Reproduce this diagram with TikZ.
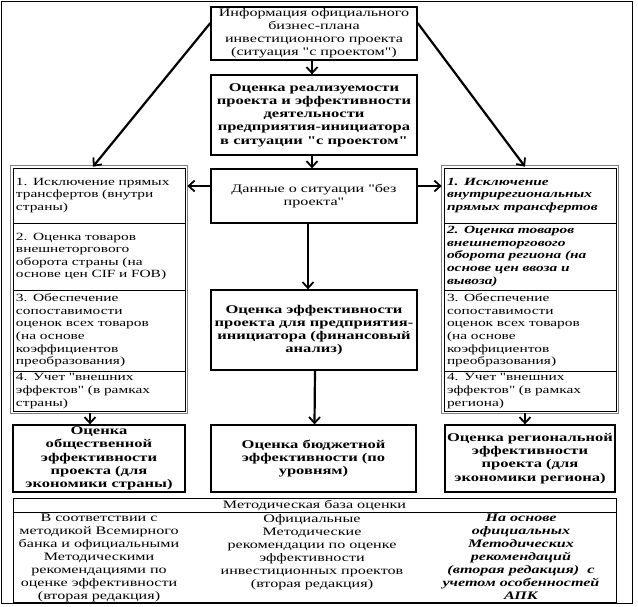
\documentclass[tikz,border=0pt]{standalone}
\usepackage{fontspec}
\setmainfont{Liberation Serif}[FakeStretch=1.4,Ligatures=TeXOff]
\usetikzlibrary{arrows.meta,calc}
\newcommand{\dq}{\char34\relax}
\begin{document}
\begin{tikzpicture}[x=1pt,y=-1pt,
  box/.style={draw,line width=1.3pt,inner sep=0pt,align=center,font=\fontsize{11.5}{13}\selectfont},
  bbox/.style={box,font=\fontsize{11.8}{13.2}\selectfont\bfseries},
  seg/.style={draw,line width=0.7pt,inner sep=0pt,minimum width=172,text width=166,align=left,font=\fontsize{11}{12.6}\selectfont},
  outerframe/.style={draw=gray,line width=0.9pt},
  arr/.style={line width=2.2pt,-{Straight Barb[length=6pt,width=11pt,line width=1.8pt]}},
  mtext/.style={anchor=north,inner sep=0pt,align=center,font=\fontsize{11.5}{13}\selectfont}]
\useasboundingbox (0,0) rectangle (638,606);
\draw[line width=0.8pt] (1,1) rectangle (632,603);

% central column
\node[box,minimum width=206,minimum height=53] (top) at (314,33.5)
  {Информация официального\\бизнес-плана\\инвестиционного проекта\\(ситуация \dq{}с проектом\dq{})};
\node[bbox,minimum width=206,minimum height=80] (real) at (314,115)
  {Оценка реализуемости\\проекта и эффективности\\деятельности\\предприятия-инициатора\\в ситуации \dq{}с проектом\dq{}};
\node[box,minimum width=206,minimum height=54] (bez) at (314,196)
  {Данные о ситуации \dq{}без\\проекта\dq{}};
\node[bbox,minimum width=206,minimum height=80] (fin) at (314,330)
  {Оценка эффективности\\проекта для предприятия-\\инициатора (финансовый\\анализ)};

% left column
\node[seg,minimum height=55] (L1) at (99,195.5) {1. Исключение прямых\\трансфертов (внутри\\страны)};
\node[seg,minimum height=67] (L2) at (99,256.5) {2. Оценка товаров\\внешнеторгового\\оборота страны (на\\основе цен CIF и FOB)};
\node[seg,minimum height=81] (L3) at (99,330.5) {3. Обеспечение\\сопоставимости\\оценок всех товаров\\(на основе\\коэффициентов\\преобразования)};
\node[seg,minimum height=40] (L4) at (99,391) {4. Учет \dq{}внешних\\эффектов\dq{} (в рамках\\страны)};
\draw[outerframe] ($(L1.north west)+(-1.8,-1.8)$) rectangle ($(L4.south east)+(1.8,1.8)$);

% right column
\node[seg,minimum height=55] (R1) at (530,195.5) {\textbf{\textit{1. Исключение\\внутрирегиональных\\прямых трансфертов}}};
\node[seg,minimum height=67] (R2) at (530,256.5) {\textbf{\textit{2. Оценка товаров\\внешнеторгового\\оборота региона (на\\основе цен ввоза и\\вывоза)}}};
\node[seg,minimum height=81] (R3) at (530,330.5) {3. Обеспечение\\сопоставимости\\оценок всех товаров\\(на основе\\коэффициентов\\преобразования)};
\node[seg,minimum height=40] (R4) at (530,391) {4. Учет \dq{}внешних\\эффектов\dq{} (в рамках\\региона)};
\draw[outerframe] ($(R1.north west)+(-1.8,-1.8)$) rectangle ($(R4.south east)+(1.8,1.8)$);

% bottom boxes
\node[bbox,minimum width=172,minimum height=67] (Lb) at (99,458.5)
  {Оценка\\общественной\\эффективности\\проекта (для\\экономики страны)};
\node[bbox,minimum width=205,minimum height=67] (budget) at (313.5,458.5)
  {Оценка бюджетной\\эффективности (по\\уровням)};
\node[bbox,minimum width=170,minimum height=67] (Rb) at (530,458.5)
  {Оценка региональной\\эффективности\\проекта (для\\экономики региона)};

% methodology
\node[draw,line width=0.8pt,minimum width=603,minimum height=104,inner sep=0pt] (meth) at (314.5,550) {};
\node[inner sep=0pt,font=\fontsize{11.5}{13}\selectfont] (methh) at (314.5,505) {Методическая база оценки};
\draw[line width=0.6pt] (meth.west |- 0,512) -- (meth.east |- 0,512);
\node[mtext] (m1) at (99,514) {В соответствии с\\методикой Всемирного\\банка и официальными\\Методическими\\рекомендациями по\\оценке эффективности\\(вторая редакция)};
\node[mtext] (m2) at (312,514) {Официальные\\Методические\\рекомендации по оценке\\эффективности\\инвестиционных проектов\\(вторая редакция)};
\node[mtext,font=\fontsize{11.5}{13}\selectfont\bfseries\itshape] (m3) at (521,514) {На основе\\официальных\\Методических\\рекомендаций\\(вторая редакция)~ с\\учетом особенностей\\АПК};

% connectors
\draw[arr] ([yshift=10.5]top.west) -- ([xshift=-6,yshift=1]L1.north);
\draw[arr] ([yshift=10.5]top.east) -- ([xshift=-5,yshift=1]R1.north);
\draw[arr] ([xshift=-2]top.south) -- ([xshift=-2]real.north);
\draw[arr] ([xshift=-2]real.south) -- ([xshift=-2]bez.north);
\draw[arr] ([yshift=10]bez.west) -- ([xshift=2,yshift=10]bez.west -| L1.east);
\draw[arr] ([yshift=10]bez.east) -- ([xshift=-2,yshift=10]bez.east -| R1.west);
\draw[arr] ([xshift=-6]bez.south) -- ([xshift=-6]fin.north);
\draw[arr] ([xshift=1]fin.south) -- ([xshift=1]budget.north);
\draw[arr] ([xshift=-9,yshift=-2]L4.south) -- ([xshift=-9]Lb.north);
\draw[arr] ([xshift=-5,yshift=-2]R4.south) -- ([xshift=-5]Rb.north);
\end{tikzpicture}
\end{document}
